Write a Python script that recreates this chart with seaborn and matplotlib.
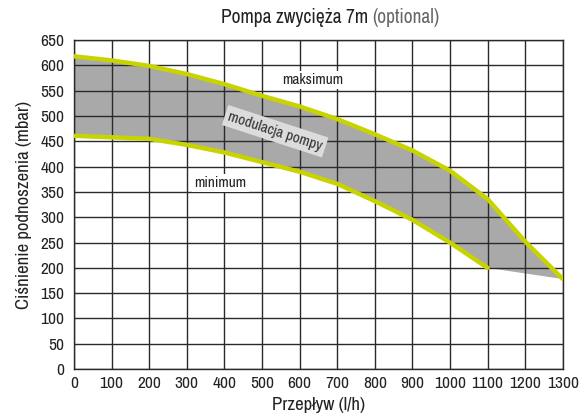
import numpy as np
import matplotlib
matplotlib.use("Agg")
import matplotlib.pyplot as plt
import seaborn as sns
from matplotlib import font_manager

# pump curves
flow_max = [0, 100, 200, 300, 400, 500, 600, 700, 800, 900, 1000, 1100, 1200, 1300]
press_max = [618, 610, 599, 583, 563, 540, 519, 494, 464, 432, 392, 336, 252, 178]
flow_min = [0, 100, 200, 300, 400, 500, 600, 700, 800, 900, 1000, 1100]
press_min = [461, 458, 455, 443, 428, 409, 390, 366, 332, 295, 250, 200]
# lower edge of the grey band past the end of the minimum curve
flow_tail = [1100, 1300]
press_tail = [200, 178]

x_ticks = list(range(0, 1301, 100))
y_ticks = list(range(0, 651, 50))

sns.set_theme(style="whitegrid")
fonts = font_manager.fontManager.ttflist
narrow = [f for f in fonts if "Narrow" in f.name or "Condensed" in f.name]
cond = [f for f in fonts if str(f.stretch) in ("condensed", "semi-condensed", "extra-condensed")]
if narrow:
    plt.rcParams["font.family"] = [narrow[0].name, "DejaVu Sans"]
    stretch = "normal"
elif cond:
    plt.rcParams["font.family"] = [cond[0].name, "DejaVu Sans"]
    stretch = "condensed"
else:
    plt.rcParams["font.family"] = ["Roboto", "DejaVu Sans"]
    stretch = "normal"
plt.rcParams["font.stretch"] = stretch

fig = plt.figure(figsize=(5.85, 4.18), dpi=100)
ax = fig.add_axes([0.1265, 0.117, 0.8355, 0.787])

# grey band between curves
band_x = flow_max + flow_tail[::-1] + flow_min[::-1]
band_y = press_max + press_tail[::-1] + press_min[::-1]
ax.fill(band_x, band_y, color="#a9a9a9", lw=0, zorder=1)

sns.lineplot(x=flow_max, y=press_max, ax=ax, color="#c8d400", lw=3.2, zorder=3)
sns.lineplot(x=flow_min, y=press_min, ax=ax, color="#c8d400", lw=3.2, zorder=3)

ax.set_xlim(0, 1300)
ax.set_ylim(0, 650)
ax.set_xticks(x_ticks)
ax.set_yticks(y_ticks)
ax.set_axisbelow("line")
ax.grid(True, color="#2a2a2a", lw=1.0)
ax.set_facecolor("white")
for s in ax.spines.values():
    s.set_color("#2a2a2a")
    s.set_linewidth(1.0)
ax.tick_params(length=0, labelsize=12.5, colors="#222222")
ax.tick_params(axis="y", pad=7)
ax.tick_params(axis="x", pad=5)

ax.set_xlabel("Przepływ (l/h)", fontsize=13.5, color="#222222", labelpad=4)
ax.set_ylabel("Ciśnienie podnoszenia (mbar)", fontsize=13.5, color="#222222", labelpad=6)

ax.text(636, 571, "maksimum", ha="center", va="center", fontsize=11, color="#222222",
        bbox=dict(facecolor="white", edgecolor="none", pad=1.5), zorder=4)
ax.text(390, 367, "minimum", ha="center", va="center", fontsize=11, color="#222222",
        bbox=dict(facecolor="white", edgecolor="none", pad=1.5), zorder=4)
ax.text(535, 470, "modulacja pompy", ha="center", va="center", fontsize=11, color="#333333",
        rotation=-18, rotation_mode="anchor",
        bbox=dict(facecolor="#dcdcdc", edgecolor="none", pad=2.5), zorder=4)

fig.text(0.629, 0.957, "Pompa zwycięża 7m", ha="right", va="center", fontsize=14, color="#222222")
fig.text(0.636, 0.957, "(optional)", ha="left", va="center", fontsize=14, color="#666666")

fig.savefig("out.png", dpi=100)
